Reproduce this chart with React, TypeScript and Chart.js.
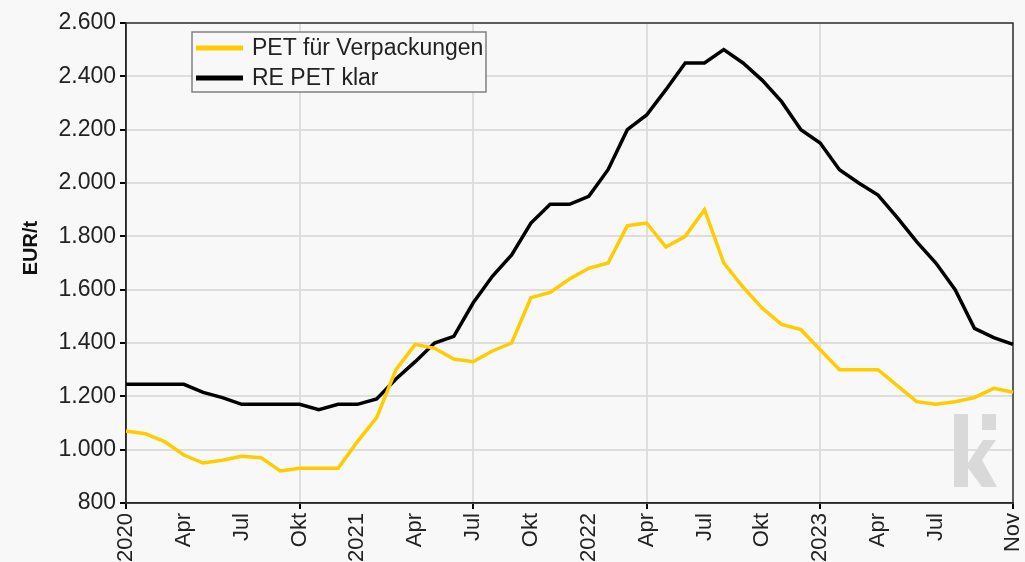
import React, { useEffect, useRef } from "react";
import { Chart, registerables } from "chart.js";

Chart.register(...registerables);

const categories = [
  "Jan 2020", "Feb 2020", "Mär 2020", "Apr 2020", "Mai 2020", "Jun 2020", "Jul 2020", "Aug 2020", "Sep 2020", "Okt 2020", "Nov 2020", "Dez 2020",
  "Jan 2021", "Feb 2021", "Mär 2021", "Apr 2021", "Mai 2021", "Jun 2021", "Jul 2021", "Aug 2021", "Sep 2021", "Okt 2021", "Nov 2021", "Dez 2021",
  "Jan 2022", "Feb 2022", "Mär 2022", "Apr 2022", "Mai 2022", "Jun 2022", "Jul 2022", "Aug 2022", "Sep 2022", "Okt 2022", "Nov 2022", "Dez 2022",
  "Jan 2023", "Feb 2023", "Mär 2023", "Apr 2023", "Mai 2023", "Jun 2023", "Jul 2023", "Aug 2023", "Sep 2023", "Okt 2023", "Nov 2023",
];

const tickLabels = [
  "2020", "", "", "Apr", "", "", "Jul", "", "", "Okt", "", "",
  "2021", "", "", "Apr", "", "", "Jul", "", "", "Okt", "", "",
  "2022", "", "", "Apr", "", "", "Jul", "", "", "Okt", "", "",
  "2023", "", "", "Apr", "", "", "Jul", "", "", "", "Nov",
];

const petVerpackungen = [
  1070, 1060, 1030, 980, 950, 960, 975, 970, 920, 930, 930, 930,
  1030, 1120, 1300, 1395, 1380, 1340, 1330, 1370, 1400, 1570, 1590, 1640,
  1680, 1700, 1840, 1850, 1760, 1800, 1900, 1700, 1610, 1530, 1470, 1450,
  1375, 1300, 1300, 1300, 1240, 1180, 1170, 1180, 1195, 1230, 1215,
];

const rePetKlar = [
  1245, 1245, 1245, 1245, 1215, 1195, 1170, 1170, 1170, 1170, 1150, 1170,
  1170, 1190, 1265, 1330, 1400, 1425, 1550, 1650, 1730, 1850, 1920, 1920,
  1950, 2050, 2200, 2255, 2350, 2450, 2450, 2500, 2450, 2385, 2305, 2200,
  2150, 2050, 2000, 1955, 1870, 1780, 1700, 1600, 1455, 1420, 1395,
];

const seriesNames = ["PET für Verpackungen", "RE PET klar"];
const seriesColors = ["#ffcc00", "#000000"];
const yTitle = "EUR/t";

const fmt = (v: number) => {
  const s = String(Math.round(v));
  return s.replace(/\B(?=(\d{3})+(?!\d))/g, ".");
};

const FONT = "Arial, 'Liberation Sans', sans-serif";

const decorPlugin = {
  id: "decor",
  beforeDatasetsDraw(chart: any) {
    const { ctx, chartArea } = chart;
    ctx.save();
    // watermark
    ctx.fillStyle = "#d9d9d9";
    ctx.fillRect(954, 414, 14, 73);
    ctx.fillRect(982, 414, 14, 16);
    ctx.beginPath();
    ctx.moveTo(968, 463);
    ctx.lineTo(983, 440);
    ctx.lineTo(996, 440);
    ctx.lineTo(982, 460);
    ctx.lineTo(997, 487);
    ctx.lineTo(982, 487);
    ctx.lineTo(968, 468);
    ctx.closePath();
    ctx.fill();
    // frame
    ctx.strokeStyle = "#333";
    ctx.lineWidth = 1.5;
    ctx.strokeRect(chartArea.left, chartArea.top, chartArea.right - chartArea.left, chartArea.bottom - chartArea.top);
    ctx.restore();
  },
  afterDraw(chart: any) {
    const { ctx, chartArea } = chart;
    ctx.save();
    // y title
    ctx.font = `bold 20px ${FONT}`;
    ctx.fillStyle = "#111";
    ctx.textAlign = "center";
    ctx.textBaseline = "middle";
    ctx.translate(31, 248);
    ctx.rotate(-Math.PI / 2);
    ctx.fillText(yTitle, 0, 0);
    ctx.restore();

    // legend
    ctx.save();
    ctx.fillStyle = "#f8f8f8";
    ctx.fillRect(192, 32, 294, 60);
    ctx.strokeStyle = "#808080";
    ctx.lineWidth = 1.5;
    ctx.strokeRect(192, 32, 294, 60);
    const rows = [48, 78];
    chart.data.datasets.forEach((ds: any, i: number) => {
      ctx.strokeStyle = ds.borderColor;
      ctx.lineWidth = 5;
      ctx.beginPath();
      ctx.moveTo(196, rows[i]);
      ctx.lineTo(243, rows[i]);
      ctx.stroke();
      ctx.font = `23px ${FONT}`;
      ctx.fillStyle = "#222";
      ctx.textAlign = "left";
      ctx.textBaseline = "middle";
      ctx.fillText(ds.label, 252, rows[i] + 1);
    });
    ctx.restore();
  },
};

export default function App() {
  const ref = useRef<HTMLCanvasElement | null>(null);
  useEffect(() => {
    document.body.style.margin = "0";
    const canvas = ref.current;
    if (!canvas) return;
    const chart = new Chart(canvas, {
      type: "line",
      data: {
        labels: categories,
        datasets: [
          {
            label: seriesNames[0],
            data: petVerpackungen,
            borderColor: seriesColors[0],
            backgroundColor: seriesColors[0],
            borderWidth: 3.5,
            pointRadius: 0,
            tension: 0,
          },
          {
            label: seriesNames[1],
            data: rePetKlar,
            borderColor: seriesColors[1],
            backgroundColor: seriesColors[1],
            borderWidth: 3.5,
            pointRadius: 0,
            tension: 0,
          },
        ],
      },
      options: {
        animation: false,
        responsive: false,
        maintainAspectRatio: false,
        layout: { padding: { left: 0, top: 23, right: 12, bottom: 0 } },
        plugins: {
          legend: { display: false },
          tooltip: { enabled: false },
        },
        scales: {
          x: {
            type: "category",
            offset: false,
            afterFit: (s: any) => {
              s.height = 59;
              s.paddingLeft = 0;
              s.paddingRight = 0;
            },
            grid: {
              color: (c: any) => (tickLabels[c.index] ? "#dedede" : "rgba(0,0,0,0)"),
              tickColor: (c: any) => (tickLabels[c.index] ? "#000" : "rgba(0,0,0,0)"),
              lineWidth: 2,
              tickLength: 6,
              drawTicks: true,
            },
            border: { color: "#000", width: 1.5 },
            ticks: {
              autoSkip: false,
              maxRotation: 90,
              minRotation: 90,
              padding: 4,
              color: "#222",
              font: { family: FONT, size: 22 },
              callback: (_v: any, i: number) => (tickLabels[i] ? tickLabels[i] : null),
            },
          },
          y: {
            min: 800,
            max: 2600,
            afterFit: (s: any) => {
              s.width = 126;
            },
            grid: {
              color: "#dedede",
              lineWidth: 2,
              tickColor: "#000",
              tickLength: 6,
            },
            border: { color: "#000", width: 1.5 },
            ticks: {
              stepSize: 200,
              padding: 4,
              color: "#222",
              font: { family: FONT, size: 23 },
              callback: (v: any) => fmt(Number(v)),
            },
          },
        },
      },
      plugins: [decorPlugin],
    });
    return () => chart.destroy();
  }, []);
  return (
    <div style={{ position: "fixed", left: 0, top: 0, width: 1025, height: 562, background: "#f8f8f8" }}>
      <canvas ref={ref} width={1025} height={562} style={{ display: "block" }} />
    </div>
  );
}
